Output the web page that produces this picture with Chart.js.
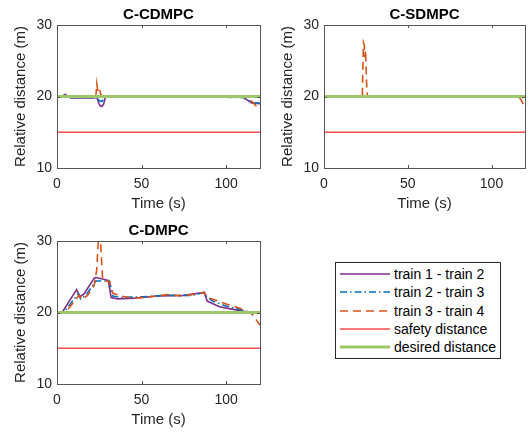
<!DOCTYPE html>
<html>
<head>
<meta charset="utf-8">
<script src="https://cdn.jsdelivr.net/npm/chart.js@4.4.0/dist/chart.umd.min.js"></script>
<style>
  body { margin: 0; background: #fff; width: 531px; height: 432px; position: relative; overflow: hidden;
         font-family: "Liberation Sans", Arial, sans-serif; }
  canvas { position: absolute; }
  #legend { position: absolute; left: 335px; top: 262px; width: 164px; height: 95px;
            border: 1px solid #262626; background: #fff; }
  .row { position: absolute; left: 4px; height: 18px; display: flex; align-items: center;
         font-size: 14px; color: #000; white-space: nowrap; }
  .row svg { margin-right: 4px; }
</style>
</head>
<body>
<canvas id="c1" width="265" height="215" style="left:0;top:0"></canvas>
<canvas id="c2" width="264" height="215" style="left:267px;top:0"></canvas>
<canvas id="c3" width="265" height="215" style="left:0;top:216px"></canvas>
<div id="legend"></div>

<script>
// axis ticks
const xTicks = [0, 50, 100]
const yTicks = [10, 20, 30]
const safety = 15
const desired = 20

// C-CDMPC
const cdT12 = [0, 3, 4, 5, 6, 8, 22, 23.5, 24.5, 25.5, 26.5, 27.5, 28.5, 30, 60, 85, 110, 112, 115, 120]
const cdV12 = [20, 20, 20.2, 20.3, 20.1, 19.8, 19.8, 19.9, 19.2, 18.7, 18.6, 18.9, 19.8, 20.05, 20.05, 19.95, 19.9, 19.6, 19.1, 19.0]
const cdT23 = [0, 4, 5, 6, 8, 22, 23.5, 25, 26.5, 27.5, 29, 60, 110, 113, 116, 120]
const cdV23 = [20, 20, 20.15, 20, 19.85, 19.85, 20, 19.4, 19.3, 19.6, 20, 20.05, 19.85, 19.5, 19.1, 19.1]
const cdT34 = [0, 3, 5, 7, 22.5, 23.1, 23.5, 24, 24.5, 25, 26, 28, 60, 110, 113, 116, 118, 120]
const cdV34 = [19.9, 19.9, 20.1, 19.9, 19.9, 20.4, 21.8, 21.0, 20.7, 21.1, 20.2, 20.0, 20.0, 19.9, 19.7, 19.1, 18.6, 18.2]

// C-SDMPC
const sdT12 = [0, 115, 120]
const sdV12 = [20, 20, 19.95]
const sdT23 = [0, 114, 117, 120]
const sdV23 = [20, 20, 19.85, 19.9]
const sdT34 = [0, 22.9, 23.2, 23.6, 24, 24.4, 24.8, 25.2, 25.6, 26, 116, 117.5, 119, 120]
const sdV34 = [20, 20, 24, 27.5, 27.2, 25.5, 26.5, 23.5, 21, 20, 20, 19.6, 18.9, 18.7]

// C-DMPC
const dT12 = [0, 3, 11.6, 13.6, 16, 22, 23, 30.3, 32, 36, 45, 60, 75, 87, 88.8, 96, 105, 112, 115, 120]
const dV12 = [20, 20, 23.2, 22.2, 22.6, 24.8, 24.9, 24.5, 22.1, 21.9, 22.0, 22.3, 22.4, 22.8, 21.6, 20.8, 20.4, 20.1, 20, 20]
const dT23 = [0, 4, 12.5, 14, 17, 23, 31, 33, 38, 50, 65, 80, 87, 88.5, 92, 100, 110, 113, 120]
const dV23 = [20, 20, 22.6, 21.9, 22.4, 24.4, 24.4, 22.3, 22.1, 22.2, 22.4, 22.4, 22.8, 22.2, 21.6, 20.9, 20.3, 20, 20]
const dT34 = [0, 5, 13, 15, 18, 22, 23.5, 24.5, 25.5, 27, 31, 33, 38, 45, 55, 65, 75, 87, 89, 94, 100, 108, 114, 116, 118, 120]
const dV34 = [20, 20, 22.4, 21.8, 22.4, 23.8, 26, 30.5, 31, 24.5, 24.3, 22.7, 22.3, 22.0, 22.2, 22.5, 22.3, 22.8, 22.1, 21.7, 21.2, 20.6, 20, 19.6, 18.9, 18.2]

const names = ['train 1 - train 2', 'train 2 - train 3', 'train 3 - train 4', 'safety distance', 'desired distance']
const colors = ['#7E2F8E', '#0072BD', '#D95319', '#FF4D4D', '#9DC86A']
const dashes = [[], [7, 3, 1.5, 3], [8, 5], [], []]
const widths = [1.6, 1.6, 1.6, 1.3, 2.8]

const pts = (t, v) => t.map((x, i) => ({ x: x, y: v[i] }))

// box + inward ticks like matlab
const boxPlugin = {
  id: 'box',
  afterDatasetsDraw(chart) {
    const { ctx, chartArea: a, scales: { x, y } } = chart
    ctx.save()
    ctx.strokeStyle = '#555'
    ctx.lineWidth = 1
    ctx.strokeRect(Math.round(a.left) + 0.5, Math.round(a.top) + 0.5, Math.round(a.width), Math.round(a.height))
    ctx.beginPath()
    xTicks.forEach(v => {
      const px = Math.round(x.getPixelForValue(v)) + 0.5
      ctx.moveTo(px, a.bottom); ctx.lineTo(px, a.bottom - 3)
      ctx.moveTo(px, a.top); ctx.lineTo(px, a.top + 3)
    })
    yTicks.forEach(v => {
      const py = Math.round(y.getPixelForValue(v)) + 0.5
      ctx.moveTo(a.left, py); ctx.lineTo(a.left + 3, py)
      ctx.moveTo(a.right, py); ctx.lineTo(a.right - 3, py)
    })
    ctx.stroke()
    ctx.restore()
  }
}

function makeChart(id, title, t12, v12, t23, v23, t34, v34, rightPad) {
  const series = [pts(t12, v12), pts(t23, v23), pts(t34, v34), pts([0, 120], [safety, safety]), pts([0, 120], [desired, desired])]
  const orders = [4, 3, 2, 1, 0]
  new Chart(document.getElementById(id), {
    type: 'line',
    data: {
      datasets: series.map((d, i) => ({
        label: names[i],
        data: d,
        borderColor: colors[i],
        borderDash: dashes[i],
        borderWidth: widths[i],
        pointRadius: 0,
        tension: 0,
        fill: false,
        order: orders[i]
      }))
    },
    options: {
      responsive: false,
      animation: false,
      layout: { padding: { left: 0, right: rightPad, top: 0, bottom: 0 } },
      plugins: {
        legend: { display: false },
        tooltip: { enabled: false },
        title: {
          display: true, text: title, color: '#000', fullSize: false,
          font: { family: 'Liberation Sans', size: 15, weight: 'bold' },
          padding: { top: 6, bottom: 1 }
        }
      },
      scales: {
        x: {
          type: 'linear', min: 0, max: 120,
          afterBuildTicks: s => { s.ticks = xTicks.map(v => ({ value: v })) },
          afterFit: s => { s.height = 47 },
          grid: { display: false, drawTicks: false },
          border: { display: false },
          ticks: { color: '#262626', font: { family: 'Liberation Sans', size: 14 }, padding: 8, maxRotation: 0 },
          title: { display: true, text: 'Time (s)', color: '#262626',
                   font: { family: 'Liberation Sans', size: 15 }, padding: { top: 0, bottom: 2 } }
        },
        y: {
          type: 'linear', min: 10, max: 30,
          afterBuildTicks: s => { s.ticks = yTicks.map(v => ({ value: v })) },
          afterFit: s => { s.width = 57 },
          grid: { display: false, drawTicks: false },
          border: { display: false },
          ticks: { color: '#262626', font: { family: 'Liberation Sans', size: 14 }, padding: 5 },
          title: { display: true, text: 'Relative distance (m)', color: '#262626',
                   font: { family: 'Liberation Sans', size: 15 }, padding: { top: 12, bottom: 0 } }
        }
      }
    },
    plugins: [boxPlugin]
  })
}

makeChart('c1', 'C-CDMPC', cdT12, cdV12, cdT23, cdV23, cdT34, cdV34, 5)
makeChart('c2', 'C-SDMPC', sdT12, sdV12, sdT23, sdV23, sdT34, sdV34, 6)
makeChart('c3', 'C-DMPC', dT12, dV12, dT23, dV23, dT34, dV34, 5)

// legend
const legend = document.getElementById('legend')
const rowTops = [2, 20.3, 38.7, 57.3, 75.3]
names.forEach((n, i) => {
  const row = document.createElement('div')
  row.className = 'row'
  row.style.top = rowTops[i] + 'px'
  const dash = dashes[i].length ? `stroke-dasharray="${dashes[i].join(' ')}"` : ''
  row.innerHTML = `<svg width="50" height="6"><line x1="0" y1="3" x2="50" y2="3" stroke="${colors[i]}" stroke-width="${widths[i]}" ${dash}/></svg><span>${n}</span>`
  legend.appendChild(row)
})
</script>
</body>
</html>
